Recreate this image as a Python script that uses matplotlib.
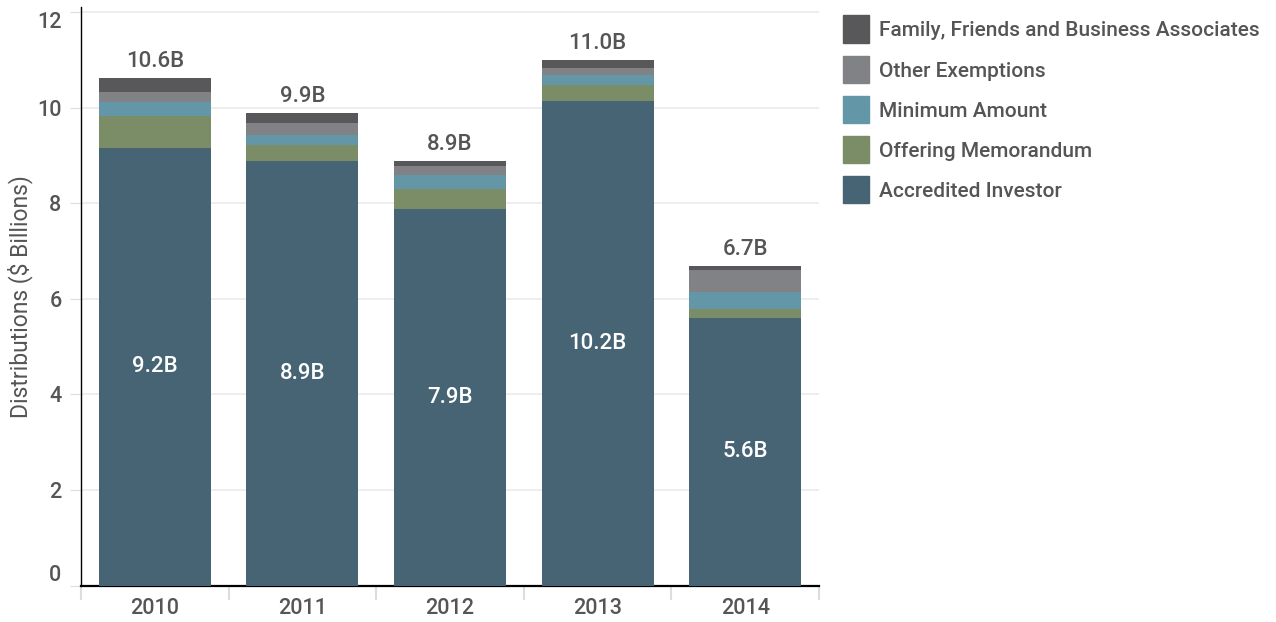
import matplotlib
matplotlib.use("Agg")
import matplotlib.pyplot as plt
from matplotlib.patches import Rectangle
from matplotlib.transforms import ScaledTranslation
import numpy as np

plt.rcParams['font.family'] = ['Roboto', 'DejaVu Sans']

years = ["2010", "2011", "2012", "2013", "2014"]
accredited = [9.16, 8.88, 7.88, 10.15, 5.60]
offering = [0.67, 0.33, 0.42, 0.33, 0.18]
minimum = [0.29, 0.21, 0.30, 0.21, 0.36]
other = [0.21, 0.26, 0.17, 0.13, 0.46]
family = [0.29, 0.20, 0.12, 0.17, 0.09]

series_names = ["Accredited Investor", "Offering Memorandum", "Minimum Amount",
                "Other Exemptions", "Family, Friends and Business Associates"]
series_colors = ["#466474", "#7b8d66", "#6396a6", "#818286", "#58585a"]
series_values = [accredited, offering, minimum, other, family]

TEXT = "#555555"
W, H = 1276, 622
fig = plt.figure(figsize=(W / 100, H / 100), dpi=100)
ax = fig.add_axes([81 / W, 1 - 585.7 / H, (819 - 81) / W, (585.7 - 7.3) / H])

x = np.arange(len(years))
bottom = np.zeros(len(years))
for name, col, vals in zip(series_names, series_colors, series_values):
    vals = np.array(vals)
    ax.bar(x, vals, width=0.76, bottom=bottom, color=col, label=name, zorder=3)
    bottom = bottom + vals

totals = bottom
for xi, tot, acc in zip(x, totals, accredited):
    ax.text(xi, tot + 0.13, f"{tot:.1f}B", ha="center", va="bottom",
            color=TEXT, fontsize=16, fontweight="medium")
    ax.text(xi, acc / 2, f"{acc:.1f}B", ha="center", va="center",
            color="white", fontsize=16, fontweight="medium")

ax.set_xlim(-0.5, len(years) - 0.5)
ax.set_ylim(0, 12.1)
ax.set_yticks([0, 2, 4, 6, 8, 10, 12])
ax.yaxis.grid(True, color="#ebebeb", linewidth=1.2, zorder=0)
ax.set_axisbelow(True)

for side in ["top", "right"]:
    ax.spines[side].set_visible(False)
ax.spines["left"].set_color("black")
ax.spines["bottom"].set_color("black")
ax.spines["bottom"].set_linewidth(1.6)
ax.spines["left"].set_linewidth(1.0)

ax.tick_params(axis="y", length=8, color="#dddddd", labelcolor=TEXT,
               labelsize=15.5, pad=6)
ax.set_xticks(x)
ax.set_xticklabels(years)
ax.tick_params(axis="x", length=0, labelcolor=TEXT, labelsize=15.5, pad=9)
# separators between year groups
ax.set_xticks(np.arange(-0.5, len(years)), minor=True)
ax.tick_params(axis="x", which="minor", length=10, color="#dddddd", width=1.5)

for lbl in ax.get_xticklabels() + ax.get_yticklabels():
    lbl.set_fontweight("medium")

# keep the end labels of the value axis inside the plotting range
ylabels = ax.get_yticklabels()
ylabels[0].set_transform(ylabels[0].get_transform() +
                         ScaledTranslation(0, 13 / 100, fig.dpi_scale_trans))
ylabels[-1].set_transform(ylabels[-1].get_transform() +
                          ScaledTranslation(0, -8 / 100, fig.dpi_scale_trans))

ax.set_ylabel("Distributions ($ Billions)", color=TEXT, fontsize=16.5)
ax.yaxis.label.set_va("center")
ax.yaxis.set_label_coords(-61 / (819 - 81), 0.5)

# legend, top entry first
for i, (name, col) in enumerate(zip(series_names[::-1], series_colors[::-1])):
    yc = 29 + i * 40.2
    fig.add_artist(Rectangle((843 / W, 1 - (yc + 13.5) / H), 26 / W, 27 / H,
                             transform=fig.transFigure, color=col))
    fig.text(879 / W, 1 - (yc + 2) / H, name, ha="left", va="center",
             color=TEXT, fontsize=15, fontweight="medium")

fig.savefig("out.png", dpi=100)
